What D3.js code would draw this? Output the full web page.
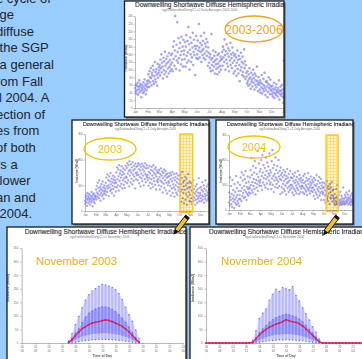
<!DOCTYPE html>
<html><head><meta charset="utf-8">
<script src="https://cdn.jsdelivr.net/npm/d3@7"></script>
<style>html,body{margin:0;padding:0;background:#99ccff;overflow:hidden}svg{display:block}</style>
</head><body><svg id="c" width="362" height="359"></svg>
<script>
// ---------- DATA ----------
const slideLines = ["e cycle of", " ge", "diffuse", " the SGP", " a general", "rom Fall", "ll 2004. A",
  "ection of", "es from", "of both", "rs a", " lower", "an and", " 2004."];
const chartTitle = "Downwelling Shortwave Diffuse Hemispheric Irradiance";
const monthLabels = ["Jan","Feb","Mar","Apr","May","Jun","Jul","Aug","Sep","Oct","Nov","Dec"];

// daily diffuse irradiance (W/m2), 2003-2006 composite, one value per day of year
const daily2003to2006 = [
 52,44,61,38,58,47,66,35,55,49,72,41,57,63,45,28,53,60,48,39,67,56,43,75,50,62,36,58,46,70,54,
 64,88,72,55,96,81,67,104,78,59,92,85,110,70,99,63,83,120,75,94,68,101,87,58,115,79,91,106,
 98,112,85,126,104,140,93,118,108,77,131,99,122,88,147,110,95,128,116,82,135,103,120,90,143,107,125,96,113,138,101,
 118,142,96,160,128,174,110,150,240,135,102,165,124,224,146,118,182,130,156,98,170,138,114,186,148,126,160,108,178,140,
 150,128,172,108,160,190,136,118,175,145,211,124,166,100,152,184,140,120,170,132,158,196,112,146,178,138,162,86,154,188,130,
 162,140,176,128,150,219,158,132,170,146,188,120,164,150,138,175,154,130,196,142,168,126,160,180,148,136,172,110,158,144,
 118,132,104,140,96,126,193,112,130,98,150,120,108,136,90,124,146,114,102,128,88,138,116,106,142,94,122,110,134,100,126,
 128,146,110,160,132,152,120,179,138,100,148,126,166,116,142,108,156,134,96,150,124,170,112,140,130,104,158,118,144,90,136,
 124,96,140,110,132,84,118,150,102,126,90,136,112,70,128,98,144,106,120,86,134,94,116,82,153,104,122,76,112,92,
 82,64,96,70,58,88,76,104,62,80,50,92,68,74,56,86,100,66,78,48,90,60,72,84,54,108,70,62,44,80,66,
 60,48,72,40,66,54,86,38,62,50,76,44,58,92,52,34,68,46,70,56,28,64,42,80,52,60,36,74,48,56,
 44,36,58,30,50,40,66,26,48,38,54,34,62,42,46,30,52,40,72,22,46,36,56,44,32,60,38,48,28,13,124];

const daily2003 = [
 40,28,55,62,35,48,20,70,44,58,30,52,66,38,46,24,60,50,34,74,42,56,18,64,48,36,68,45,30,58,52,
 60,84,45,98,72,56,110,66,90,50,120,78,62,95,40,86,70,104,58,80,115,64,92,48,76,100,68,88,
 80,110,62,130,96,74,142,88,120,100,58,135,92,116,78,148,104,84,126,70,112,98,138,86,122,60,108,132,94,118,76,
 110,150,92,170,124,100,162,136,80,178,118,146,96,158,130,106,174,140,88,152,120,166,102,144,128,90,160,114,176,134,
 130,168,108,186,146,120,178,156,96,194,138,160,112,182,150,126,170,104,190,142,158,118,176,134,164,88,184,148,124,172,140,
 150,176,120,186,140,164,108,180,132,158,96,172,146,128,184,116,162,138,176,100,154,170,124,186,144,112,166,136,178,130,
 140,120,168,98,152,130,176,110,146,88,160,124,172,106,138,156,94,178,128,148,116,164,102,142,170,84,134,158,118,150,112,
 124,150,100,160,132,84,144,118,166,96,138,112,154,72,128,148,106,162,90,136,120,156,80,142,110,130,68,146,100,134,116,
 110,136,78,148,98,124,60,140,88,116,152,70,128,104,92,144,56,120,84,132,100,72,146,112,64,126,94,138,80,106,
 90,120,60,140,76,104,36,128,84,152,50,112,70,96,30,118,82,134,44,100,66,126,24,88,108,56,144,74,92,40,114,
 64,92,36,110,50,80,28,100,58,72,120,40,86,52,68,24,96,44,76,60,104,32,84,48,70,56,128,38,90,62,
 70,50,94,38,82,60,112,44,76,56,100,32,88,66,48,120,58,80,40,96,62,72,46,104,54,86,42,68,78,52,90];

const daily2004 = [
 30,70,18,130,52,40,96,24,64,12,120,46,80,34,58,8,104,42,72,28,136,50,20,88,60,36,110,26,76,44,16,
 60,100,44,130,76,36,150,88,56,118,68,140,48,96,80,124,52,156,72,108,40,92,64,134,84,58,112,70,86,
 90,130,66,160,100,208,80,140,112,70,176,96,124,150,84,196,108,62,168,120,90,144,104,236,76,132,116,186,98,154,110,
 120,164,96,200,136,80,220,150,110,180,128,236,100,168,140,90,210,124,156,106,190,132,84,174,146,118,226,138,102,160,
 110,150,84,196,126,240,100,168,136,72,180,118,144,92,210,130,160,104,122,176,88,148,114,200,134,96,156,124,64,170,140,
 120,90,148,70,132,104,160,84,116,140,76,152,98,124,62,136,108,164,88,128,112,72,144,94,118,80,156,100,130,86,
 100,128,70,144,92,116,60,136,84,108,150,76,120,98,66,132,88,112,156,80,104,124,64,140,94,118,72,128,86,110,96,
 96,120,70,136,88,108,64,144,82,114,100,74,128,92,60,118,84,148,104,78,124,90,66,112,98,134,76,106,88,120,72,
 90,112,56,128,80,100,44,120,70,96,140,62,104,84,50,116,76,92,132,58,108,68,86,124,40,98,74,110,64,88,
 70,92,40,108,58,80,30,100,62,76,116,44,88,54,36,96,66,84,24,104,50,72,90,46,60,112,34,78,56,82,48,
 40,28,64,20,48,36,84,24,52,30,100,22,44,32,60,18,38,26,72,30,42,20,56,34,24,46,28,90,36,22,
 46,30,60,24,52,36,70,28,44,34,62,22,50,40,76,26,48,32,58,20,42,36,66,30,54,24,46,38,56,28,40];

const highlight2003 = ["2003-10-03", "2003-11-09"];
const highlight2004 = ["2004-10-09", "2004-11-13"];

// November diurnal statistics (W/m2) by local half-hour
const novHours2003 = [7,7.5,8,8.5,9,9.5,10,10.5,11,11.5,12,12.5,13,13.5,14,14.5,15,15.5,16,16.5,17,17.5];
const novMean2003 = [2,12,27,40,53,60,68,73,76,79,82,85,83,79,73,68,61,52,41,28,14,3];
const novQ1_2003  = [0,5,12,18,24,28,31,33,34,35,36,36,35,34,32,30,27,23,18,12,6,1];
const novQ3_2003  = [4,18,36,52,75,95,110,118,125,130,134,133,130,124,115,104,90,76,58,38,20,5];
const novMax2003  = [8,35,68,98,130,158,178,192,200,208,216,214,210,205,196,182,160,132,104,80,48,18];
const novMin2003  = [0,1,3,5,7,9,10,12,12,13,13,13,12,12,11,10,8,6,5,3,1,0];

const novHours2004 = [7,7.5,8,8.5,9,9.5,10,10.5,11,11.5,12,12.5,13,13.5,14,14.5,15,15.5,16,16.5,17];
const novQ1_2004  = [0,4,10,16,21,25,28,30,31,32,33,32,31,30,28,25,21,16,11,6,2];
const novQ3_2004  = [4,20,38,52,64,76,86,94,98,102,106,104,100,96,88,78,64,50,36,22,8];
const novMax2004  = [10,45,90,110,125,158,180,198,190,205,200,196,208,175,155,130,108,85,60,40,15];
const novMin2004  = [0,1,3,5,6,8,9,10,11,11,12,11,11,10,9,8,6,4,3,1,0];
// full-day mean, half-hour steps from 00:00 to 23:30
const novMeanDay2004 = [0,0,0,0,0,0,0,0,0,0,0,0,0,0,
  2,16,29,41,50,58,64,69,73,79,86,82,78,76,71,63,52,40,28,16,5,
  0,0,0,0,0,0,0,0,0,0,0,0,0];

const hourTicks = [0,2,4,6,8,10,12,14,16,18,20,22,24];
const hourTicksUTC = ["06","08","10","12","14","16","18","20","22","00","02","04","06"];

// ---------- DRAWING ----------
const FONT = "'Liberation Sans', Arial, Helvetica, sans-serif";
const svg = d3.select("#c");
const defs = svg.append("defs");
svg.append("rect").attr("width",362).attr("height",359).attr("fill","#99ccff");

// grid pattern for highlight boxes
const pat = defs.append("pattern").attr("id","grid").attr("patternUnits","userSpaceOnUse")
  .attr("width",3).attr("height",3);
pat.append("rect").attr("width",3).attr("height",3).attr("fill","#fff3c0");
pat.append("path").attr("d","M0,0.25H3M0.25,0V3").attr("stroke","#f4c850").attr("stroke-width",0.6);

// slide text
svg.append("g").selectAll("text").data(slideLines).join("text")
  .attr("x",-4).attr("y",(d,i)=>2.5+16.6*i)
  .attr("xml:space","preserve").style("white-space","pre")
  .attr("font-family",FONT).attr("font-size",13).attr("fill","#262626")
  .text(d=>d);

let clipN = 0;
function panel(x,y,w,h){
  svg.append("rect").attr("x",x+1.6).attr("y",y+1.6).attr("width",w).attr("height",h).attr("fill","#6d6d6d");
  svg.append("rect").attr("x",x).attr("y",y).attr("width",w).attr("height",h).attr("fill","#fff");
  const id = "clip"+(clipN++);
  defs.append("clipPath").attr("id",id).append("rect").attr("x",x).attr("y",y).attr("width",w).attr("height",h);
  const g = svg.append("g").attr("clip-path",`url(#${id})`);
  return {g, close(){
    svg.append("rect").attr("x",x).attr("y",y).attr("width",w).attr("height",h)
      .attr("fill","none").attr("stroke","#1a1a1a").attr("stroke-width",1.3);
  }};
}
function styleAxis(a, fs){
  a.selectAll("path,line").attr("stroke","#8a8a8a").attr("stroke-width",0.6);
  a.selectAll("text").attr("font-size",fs).attr("fill","#6a6a6a").attr("font-family",FONT);
}
function titles(g, x, y, fs, sub, sx, sy, sfs){
  g.append("text").attr("x",x).attr("y",y).attr("font-family",FONT).attr("font-size",fs)
    .attr("fill","#2b2b2b").attr("stroke","#2b2b2b").attr("stroke-width",0.12).text(chartTitle);
  g.append("text").attr("x",sx).attr("y",sy).attr("font-family",FONT).attr("font-size",sfs)
    .attr("fill","#777").text(sub);
}
function ylabel(g, x, y, fs){
  g.append("text").attr("transform",`translate(${x},${y}) rotate(-90)`).attr("text-anchor","middle")
    .attr("font-family",FONT).attr("font-size",fs).attr("font-weight","bold").attr("fill","#555")
    .text("Irradiance (W/m2)");
}
function ellipseLabel(g, cx, cy, rx, ry, txt, color, fs, ty){
  g.append("ellipse").attr("cx",cx).attr("cy",cy).attr("rx",rx).attr("ry",ry)
    .attr("fill","none").attr("stroke",color).attr("stroke-width",1.3);
  g.append("text").attr("x",cx).attr("y",ty).attr("text-anchor","middle").attr("font-family",FONT)
    .attr("font-size",fs).attr("fill",color).text(txt);
}

// ===== top chart (2003-2006) =====
{
  const p = panel(124.5, 1, 159.5, 116);
  const g = p.g;
  titles(g, 135, 7.4, 6.5, "sgp1swfanalbnd1longC1.c1     Daily Averages 2003-2006", 162, 11.3, 3.1);
  const x = d3.scaleTime().domain([new Date(2005,0,1), new Date(2006,0,1)]).range([135, 284]);
  const y = d3.scaleLinear().domain([0,240]).range([108,16]);
  const ay = g.append("g").attr("transform","translate(135,0)")
    .call(d3.axisLeft(y).tickValues(d3.range(0,241,20)).tickSize(1.5).tickPadding(1).tickSizeOuter(0));
  styleAxis(ay, 2.6);
  const ax = g.append("g").attr("transform","translate(0,108)")
    .call(d3.axisBottom(x).ticks(d3.timeMonth.every(1)).tickFormat((d,i)=>monthLabels[d.getMonth()])
      .tickSize(1.5).tickPadding(1.5).tickSizeOuter(0));
  styleAxis(ax, 3.2);
  ylabel(g, 127.3, 58, 3.2);
  g.append("g").selectAll("circle").data(daily2003to2006).join("circle")
    .attr("cx",(d,i)=>x(new Date(2005,0,1+i)) + 0.2)
    .attr("cy",d=>y(d)).attr("r",1.05)
    .attr("fill","#8d8dff").attr("stroke","#5a5aff").attr("stroke-width",0.35).attr("opacity",0.75);
  ellipseLabel(g, 254, 29, 29, 13, "2003-2006", "#f3a321", 12, 34.2);
  p.close();
}

// ===== middle charts =====
function middle(px, year, data, hl, axisX, axisTop, axisBottom, el){
  const p = panel(px, 120, 137, 104);
  const g = p.g;
  titles(g, axisX - 2, 126, 5.3, `sgp1swfanalbnd1longC1.c1     Daily Averages ${year}`, axisX + 30, 130.3, 2.8);
  const x = d3.scaleTime().domain([new Date(year,0,1), new Date(year+1,0,1)]).range([axisX, axisX+126]);
  const y = d3.scaleLinear().domain([0,300]).range([axisBottom, axisTop]);
  const ay = g.append("g").attr("transform",`translate(${axisX},0)`)
    .call(d3.axisLeft(y).tickValues([0,100,200,300]).tickSize(1.5).tickPadding(1).tickSizeOuter(0));
  styleAxis(ay, 2.6);
  const ax = g.append("g").attr("transform",`translate(0,${axisBottom})`)
    .call(d3.axisBottom(x).ticks(d3.timeMonth.every(1)).tickFormat(d=>monthLabels[d.getMonth()])
      .tickSize(1.5).tickPadding(1.5).tickSizeOuter(0));
  styleAxis(ax, 2.8);
  ylabel(g, axisX - 7, 171, 2.9);
  g.append("g").selectAll("circle").data(data).join("circle")
    .attr("cx",(d,i)=>x(new Date(year,0,1+i)))
    .attr("cy",d=>y(d)).attr("r",0.95)
    .attr("fill","#8a8aff").attr("stroke","#5c5cff").attr("stroke-width",0.3).attr("opacity",0.75);
  const x0 = x(new Date(hl[0]+"T00:00")), x1 = x(new Date(hl[1]+"T00:00"));
  g.append("rect").attr("x",x0).attr("y",axisTop).attr("width",x1-x0).attr("height",axisBottom-axisTop+1.5)
    .attr("fill","url(#grid)").style("mix-blend-mode","multiply");
  g.append("rect").attr("x",x0).attr("y",axisTop).attr("width",x1-x0).attr("height",axisBottom-axisTop+1.5)
    .attr("fill","none").attr("stroke","#ffc61a").attr("stroke-width",1.4);
  ellipseLabel(g, el[0], el[1], 26, 11, String(year), "#f5c400", 11, el[1]+4.2);
  p.close();
}
middle(72, 2003, daily2003, highlight2003, 85, 134, 211, [110,149]);
middle(216, 2004, daily2004, highlight2004, 229, 135, 210, [254,147]);

// ===== bottom charts =====
function bottom(px, pw, label, axisX, axisEnd, hours, q1, q3, mx, mn, meanHours, mean, sub, subX){
  const p = panel(px, 227, pw, 140);
  const g = p.g;
  titles(g, axisX + 3, 234, 6.6, sub, subX, 238, 3);
  const x = d3.scaleLinear().domain([0,24]).range([axisX, axisEnd]);
  const y = d3.scaleLinear().domain([0,350]).range([343, 248]);
  const ay = g.append("g").attr("transform",`translate(${axisX},0)`)
    .call(d3.axisLeft(y).tickValues(d3.range(0,351,50)).tickSize(1.5).tickPadding(2).tickSizeOuter(0));
  styleAxis(ay, 2.8);
  const ax = g.append("g").attr("transform","translate(0,343)")
    .call(d3.axisBottom(x).tickValues(hourTicks).tickSize(1.5).tickFormat(d=>String(d).padStart(2,"0"))
      .tickPadding(1.5).tickSizeOuter(0));
  styleAxis(ax, 2.8);
  ax.selectAll(".tick").append("text").attr("y",8.6).attr("text-anchor","middle")
    .attr("font-size",2.8).attr("fill","#6a6a6a").attr("font-family",FONT)
    .text((d,i)=>hourTicksUTC[i]);
  g.append("text").attr("x",x(12)).attr("y",356.5).attr("text-anchor","middle").attr("font-family",FONT)
    .attr("font-size",3.4).attr("font-weight","bold").attr("fill","#555").text("Time of Day");
  ylabel(g, axisX - 12.5, 288, 3.4);
  const idx = d3.range(hours.length);
  // min-max envelope
  g.append("path").datum(idx).attr("fill","#d9d9ff").attr("opacity",0.85)
    .attr("d", d3.area().x(i=>x(hours[i])).y0(i=>y(mn[i])).y1(i=>y(mx[i])));
  g.append("g").selectAll("rect").data(idx).join("rect")
    .attr("x",i=>x(hours[i])-1.1).attr("width",2.2)
    .attr("y",i=>y(mx[i])).attr("height",i=>y(mn[i])-y(mx[i]))
    .attr("fill","#a9a9ff").attr("opacity",0.7);
  // inter-quartile band
  g.append("path").datum(idx).attr("fill","#8484ff").attr("opacity",0.5)
    .attr("d", d3.area().x(i=>x(hours[i])).y0(i=>y(q1[i])).y1(i=>y(q3[i])));
  g.append("g").selectAll("rect").data(idx).join("rect")
    .attr("x",i=>x(hours[i])-1).attr("width",2)
    .attr("y",i=>y(q3[i])).attr("height",i=>y(q1[i])-y(q3[i]))
    .attr("fill","#6666ff").attr("opacity",0.35);
  // individual extreme points
  g.append("g").selectAll("circle").data(idx.flatMap(i=>[[hours[i],mx[i]],[hours[i],q3[i]],[hours[i],mn[i]]])).join("circle")
    .attr("cx",d=>x(d[0])).attr("cy",d=>y(d[1])).attr("r",0.7).attr("fill","#4d4dff").attr("opacity",0.8);
  // mean line
  g.append("path").datum(d3.range(mean.length)).attr("fill","none").attr("stroke","#e0205c").attr("stroke-width",1.3)
    .attr("d", d3.line().x(i=>x(meanHours[i])).y(i=>y(mean[i])));
  g.append("g").selectAll("circle").data(d3.range(mean.length)).join("circle")
    .attr("cx",i=>x(meanHours[i])).attr("cy",i=>y(mean[i])).attr("r",0.9).attr("fill","#d81b50");
  g.append("text").attr("x",px + (label.endsWith("2003") ? 29 : 31)).attr("y",265).attr("font-family",FONT)
    .attr("font-size",11.4).attr("fill","#eab20c").text(label);
  p.close();
}
bottom(7, 179, "November 2003", 21.7, 182.7, novHours2003, novQ1_2003, novQ3_2003, novMax2003, novMin2003,
  novHours2003, novMean2003, "sgp1swfanalbnd1longC1.c1     November 2003", 70);
bottom(190, 180, "November 2004", 206, 366, novHours2004, novQ1_2004, novQ3_2004, novMax2004, novMin2004,
  d3.range(0,24,0.5), novMeanDay2004, "sgp1swfanalbnd1longC1.c1     November 2004", 245);

// ===== pencil arrows =====
function pencil(x1,y1,x2,y2){
  const ang = Math.atan2(y2-y1,x2-x1)*180/Math.PI;
  const len = Math.hypot(x2-x1,y2-y1);
  const g = svg.append("g").attr("transform",`translate(${x1},${y1}) rotate(${ang})`);
  g.append("rect").attr("x",0).attr("y",-2.3).attr("width",len-5).attr("height",4.6)
    .attr("fill","#f6c21c").attr("stroke","#111").attr("stroke-width",0.9);
  g.append("rect").attr("x",0).attr("y",-2.3).attr("width",2.6).attr("height",4.6).attr("fill","#111");
  g.append("path").attr("d",`M${len-5},-2.3 L${len},0 L${len-5},2.3 Z`).attr("fill","#111");
}
pencil(187.5, 216.5, 173.5, 234.5);
pencil(337.5, 216.5, 323, 235.5);
</script>
</body></html>
